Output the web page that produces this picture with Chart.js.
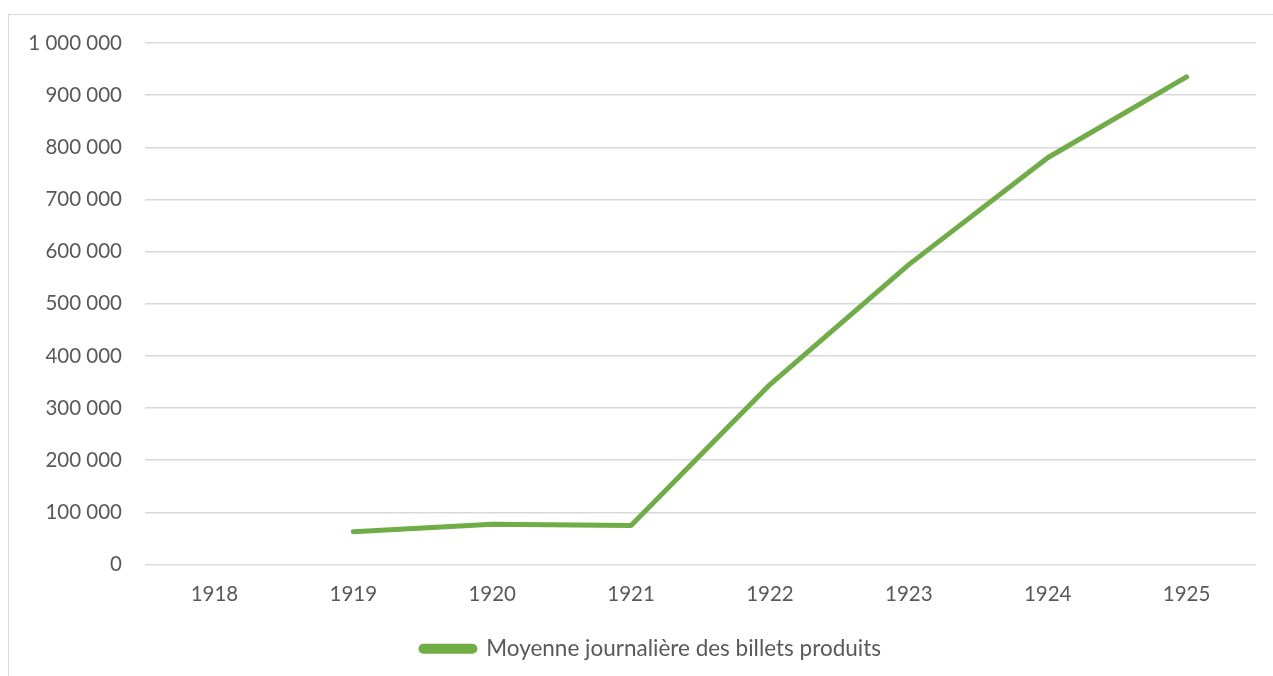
<!DOCTYPE html>
<html>
<head>
<meta charset="utf-8">
<script src="https://cdn.jsdelivr.net/npm/chart.js@4"></script>
<style>
  html, body { margin: 0; padding: 0; background: #fff; }
  body { width: 1273px; height: 676px; overflow: hidden; position: relative; }
  .frame { position: absolute; left: 8px; top: 14px; width: 1300px; height: 700px;
           border: 1px solid #d9d9d9; box-sizing: border-box; }
  canvas { position: absolute; left: 0; top: 0; }
</style>
</head>
<body>
<div class="frame"></div>
<canvas id="c" width="1273" height="676"></canvas>
<script>
// Années
const years = ['1918', '1919', '1920', '1921', '1922', '1923', '1924', '1925'];
// Moyenne journalière des billets produits (pas de donnée pour 1918)
const billets = [null, 63000, 77000, 75000, 345000, 575000, 780000, 935000];
const seriesName = 'Moyenne journalière des billets produits';
const yMin = 0, yMax = 1000000, yStep = 100000;

const FONT = 'Lato, "Liberation Sans", sans-serif';
const TXT = '#595959';
const GREEN = '#70AD47';

const fmt = v => String(v).replace(/\B(?=(\d{3})+(?!\d))/g, ' ');

// Décale la légende vers la droite
const legendShift = {
  id: 'legendShift',
  afterLayout(chart) {
    const lg = chart.legend;
    if (lg) { lg.left += 23; lg.right += 23; }
  }
};

new Chart(document.getElementById('c'), {
  type: 'line',
  data: {
    labels: years,
    datasets: [{
      label: seriesName,
      data: billets,
      borderColor: GREEN,
      backgroundColor: GREEN,
      borderWidth: 5,
      borderCapStyle: 'round',
      borderJoinStyle: 'round',
      pointRadius: 0,
      tension: 0,
      spanGaps: false
    }]
  },
  plugins: [legendShift],
  options: {
    responsive: false,
    animation: false,
    layout: { padding: { left: 0, right: 17, top: 43, bottom: 6 } },
    plugins: {
      tooltip: { enabled: false },
      legend: {
        position: 'bottom',
        labels: {
          font: { family: FONT, size: 22.5 },
          color: TXT,
          boxWidth: 54,
          boxHeight: 5,
          padding: 18,
          useBorderRadius: true,
          borderRadius: 2.5
        }
      }
    },
    scales: {
      x: {
        offset: true,
        grid: { display: false, drawTicks: false },
        border: { display: false },
        ticks: { font: { family: FONT, size: 20.5 }, color: TXT, padding: 18 },
        afterFit: s => { s.height = 55; }
      },
      y: {
        min: yMin, max: yMax,
        grid: { color: '#d9d9d9', lineWidth: 1.5, drawTicks: false },
        border: { display: false },
        ticks: { stepSize: yStep, font: { family: FONT, size: 20.5 }, color: TXT, padding: 23,
                 callback: v => fmt(v) },
        afterFit: s => { s.width = 145; }
      }
    }
  }
});
</script>
</body>
</html>
